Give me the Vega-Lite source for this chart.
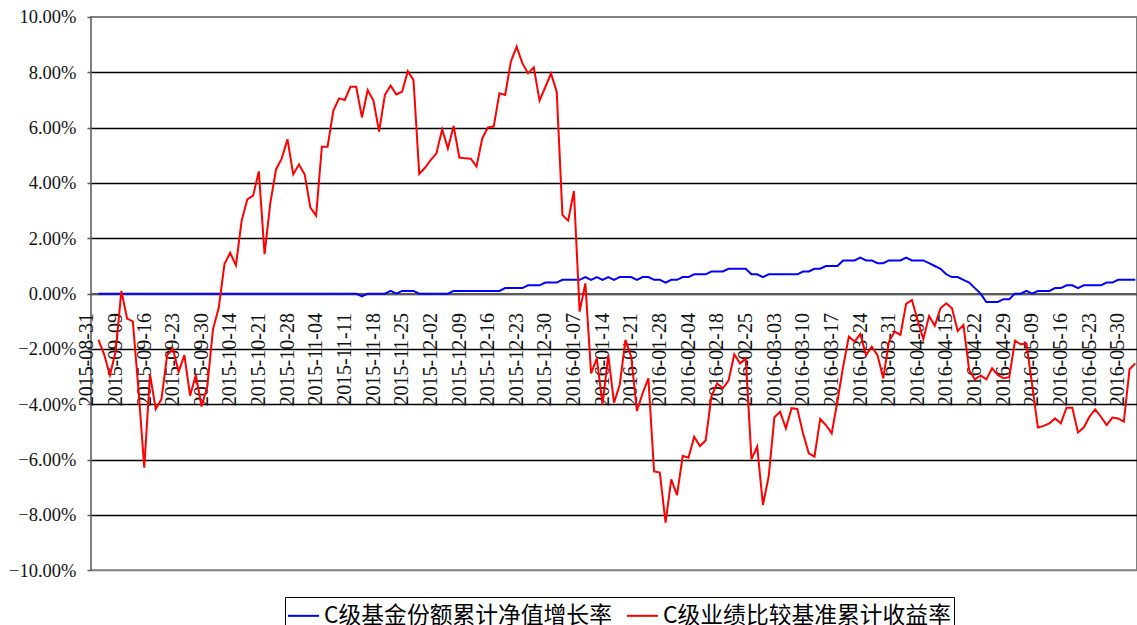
{
  "$schema": "https://vega.github.io/schema/vega-lite/v6.json",
  "width": 1046,
  "height": 553.3,
  "autosize": {"type": "none"},
  "padding": {"left": 91, "top": 17, "right": 0, "bottom": 55},
  "background": "white",
  "config": {"view": {"stroke": "#7f7f7f", "strokeWidth": 2}, "font": "Liberation Serif, DejaVu Serif, serif"},
  "data": {"values": [
    {"d":"2015-08-31","a":null,"b":null},
    {"d":"2015-09-01","a":0,"b":-1.67},
    {"d":"2015-09-02","a":0,"b":-2.2},
    {"d":"2015-09-07","a":0,"b":-2.94},
    {"d":"2015-09-08","a":0,"b":-2.1},
    {"d":"2015-09-09","a":0,"b":0.1},
    {"d":"2015-09-10","a":0,"b":-0.9},
    {"d":"2015-09-11","a":0,"b":-1.0},
    {"d":"2015-09-14","a":0,"b":-3.5},
    {"d":"2015-09-15","a":0,"b":-6.29},
    {"d":"2015-09-16","a":0,"b":-2.92},
    {"d":"2015-09-17","a":0,"b":-4.17},
    {"d":"2015-09-18","a":0,"b":-3.81},
    {"d":"2015-09-21","a":0,"b":-2.22},
    {"d":"2015-09-22","a":0,"b":-2.0},
    {"d":"2015-09-23","a":0,"b":-2.82},
    {"d":"2015-09-24","a":0,"b":-2.22},
    {"d":"2015-09-25","a":0,"b":-3.69},
    {"d":"2015-09-28","a":0,"b":-2.94},
    {"d":"2015-09-29","a":0,"b":-4.08},
    {"d":"2015-09-30","a":0,"b":-3.36},
    {"d":"2015-10-08","a":0,"b":-1.28},
    {"d":"2015-10-09","a":0,"b":-0.51},
    {"d":"2015-10-12","a":0,"b":1.07},
    {"d":"2015-10-13","a":0,"b":1.48},
    {"d":"2015-10-14","a":0,"b":1.02},
    {"d":"2015-10-15","a":0,"b":2.64},
    {"d":"2015-10-16","a":0,"b":3.41},
    {"d":"2015-10-19","a":0,"b":3.54},
    {"d":"2015-10-20","a":0,"b":4.42},
    {"d":"2015-10-21","a":0,"b":1.43},
    {"d":"2015-10-22","a":0,"b":3.27},
    {"d":"2015-10-23","a":0,"b":4.49},
    {"d":"2015-10-26","a":0,"b":4.89},
    {"d":"2015-10-27","a":0,"b":5.58},
    {"d":"2015-10-28","a":0,"b":4.31},
    {"d":"2015-10-29","a":0,"b":4.67},
    {"d":"2015-10-30","a":0,"b":4.31},
    {"d":"2015-11-02","a":0,"b":3.11},
    {"d":"2015-11-03","a":0,"b":2.82},
    {"d":"2015-11-04","a":0,"b":5.31},
    {"d":"2015-11-05","a":0,"b":5.31},
    {"d":"2015-11-06","a":0,"b":6.61},
    {"d":"2015-11-09","a":0,"b":7.06},
    {"d":"2015-11-10","a":0,"b":7.0},
    {"d":"2015-11-11","a":0,"b":7.48},
    {"d":"2015-11-12","a":0,"b":7.48},
    {"d":"2015-11-13","a":-0.1,"b":6.37},
    {"d":"2015-11-16","a":0,"b":7.36},
    {"d":"2015-11-17","a":0,"b":6.98},
    {"d":"2015-11-18","a":0,"b":5.86},
    {"d":"2015-11-19","a":0,"b":7.18},
    {"d":"2015-11-20","a":0.1,"b":7.52},
    {"d":"2015-11-23","a":0,"b":7.2},
    {"d":"2015-11-24","a":0.1,"b":7.3},
    {"d":"2015-11-25","a":0.1,"b":8.04},
    {"d":"2015-11-26","a":0.1,"b":7.72},
    {"d":"2015-11-27","a":0,"b":4.33},
    {"d":"2015-11-30","a":0,"b":4.55},
    {"d":"2015-12-01","a":0,"b":4.83},
    {"d":"2015-12-02","a":0,"b":5.07},
    {"d":"2015-12-03","a":0,"b":5.94},
    {"d":"2015-12-04","a":0,"b":5.25},
    {"d":"2015-12-07","a":0.1,"b":6.06},
    {"d":"2015-12-08","a":0.1,"b":4.92},
    {"d":"2015-12-09","a":0.1,"b":4.89},
    {"d":"2015-12-10","a":0.1,"b":4.88},
    {"d":"2015-12-11","a":0.1,"b":4.59},
    {"d":"2015-12-14","a":0.1,"b":5.61},
    {"d":"2015-12-15","a":0.1,"b":6.01},
    {"d":"2015-12-16","a":0.1,"b":6.04},
    {"d":"2015-12-17","a":0.1,"b":7.24},
    {"d":"2015-12-18","a":0.2,"b":7.18},
    {"d":"2015-12-21","a":0.2,"b":8.39},
    {"d":"2015-12-22","a":0.2,"b":8.93},
    {"d":"2015-12-23","a":0.2,"b":8.33},
    {"d":"2015-12-24","a":0.3,"b":7.96},
    {"d":"2015-12-25","a":0.3,"b":8.18},
    {"d":"2015-12-28","a":0.3,"b":6.98},
    {"d":"2015-12-29","a":0.4,"b":7.46},
    {"d":"2015-12-30","a":0.4,"b":7.96},
    {"d":"2015-12-31","a":0.4,"b":7.3},
    {"d":"2016-01-04","a":0.5,"b":2.84},
    {"d":"2016-01-05","a":0.5,"b":2.64},
    {"d":"2016-01-06","a":0.5,"b":3.71},
    {"d":"2016-01-07","a":0.5,"b":-0.65},
    {"d":"2016-01-08","a":0.6,"b":0.37},
    {"d":"2016-01-11","a":0.5,"b":-2.88},
    {"d":"2016-01-12","a":0.6,"b":-2.34},
    {"d":"2016-01-13","a":0.5,"b":-4.0},
    {"d":"2016-01-14","a":0.6,"b":-2.22},
    {"d":"2016-01-15","a":0.5,"b":-3.94},
    {"d":"2016-01-18","a":0.6,"b":-3.3},
    {"d":"2016-01-19","a":0.6,"b":-1.67},
    {"d":"2016-01-20","a":0.6,"b":-2.28},
    {"d":"2016-01-21","a":0.5,"b":-4.24},
    {"d":"2016-01-22","a":0.6,"b":-3.6},
    {"d":"2016-01-25","a":0.6,"b":-3.06},
    {"d":"2016-01-26","a":0.5,"b":-6.43},
    {"d":"2016-01-27","a":0.5,"b":-6.47},
    {"d":"2016-01-28","a":0.4,"b":-8.28},
    {"d":"2016-01-29","a":0.5,"b":-6.71},
    {"d":"2016-02-01","a":0.5,"b":-7.28},
    {"d":"2016-02-02","a":0.6,"b":-5.86},
    {"d":"2016-02-03","a":0.6,"b":-5.93},
    {"d":"2016-02-04","a":0.7,"b":-5.17},
    {"d":"2016-02-05","a":0.7,"b":-5.51},
    {"d":"2016-02-15","a":0.7,"b":-5.31},
    {"d":"2016-02-16","a":0.8,"b":-3.72},
    {"d":"2016-02-17","a":0.8,"b":-3.24},
    {"d":"2016-02-18","a":0.8,"b":-3.42},
    {"d":"2016-02-19","a":0.9,"b":-3.14},
    {"d":"2016-02-22","a":0.9,"b":-2.19},
    {"d":"2016-02-23","a":0.9,"b":-2.52},
    {"d":"2016-02-24","a":0.9,"b":-2.34},
    {"d":"2016-02-25","a":0.7,"b":-5.98},
    {"d":"2016-02-26","a":0.7,"b":-5.53},
    {"d":"2016-02-29","a":0.6,"b":-7.64},
    {"d":"2016-03-01","a":0.7,"b":-6.61},
    {"d":"2016-03-02","a":0.7,"b":-4.47},
    {"d":"2016-03-03","a":0.7,"b":-4.27},
    {"d":"2016-03-04","a":0.7,"b":-4.87},
    {"d":"2016-03-07","a":0.7,"b":-4.14},
    {"d":"2016-03-08","a":0.7,"b":-4.17},
    {"d":"2016-03-09","a":0.8,"b":-5.05},
    {"d":"2016-03-10","a":0.8,"b":-5.77},
    {"d":"2016-03-11","a":0.9,"b":-5.89},
    {"d":"2016-03-14","a":0.9,"b":-4.53},
    {"d":"2016-03-15","a":1.0,"b":-4.75},
    {"d":"2016-03-16","a":1.0,"b":-5.05},
    {"d":"2016-03-17","a":1.0,"b":-3.9},
    {"d":"2016-03-18","a":1.2,"b":-2.64},
    {"d":"2016-03-21","a":1.2,"b":-1.55},
    {"d":"2016-03-22","a":1.2,"b":-1.73},
    {"d":"2016-03-23","a":1.3,"b":-1.46},
    {"d":"2016-03-24","a":1.2,"b":-2.22},
    {"d":"2016-03-25","a":1.2,"b":-1.92},
    {"d":"2016-03-28","a":1.1,"b":-2.22},
    {"d":"2016-03-29","a":1.1,"b":-3.06},
    {"d":"2016-03-30","a":1.2,"b":-1.73},
    {"d":"2016-03-31","a":1.2,"b":-1.37},
    {"d":"2016-04-01","a":1.2,"b":-1.49},
    {"d":"2016-04-05","a":1.3,"b":-0.37},
    {"d":"2016-04-06","a":1.2,"b":-0.23},
    {"d":"2016-04-07","a":1.2,"b":-0.95},
    {"d":"2016-04-08","a":1.2,"b":-1.65},
    {"d":"2016-04-11","a":1.1,"b":-0.81},
    {"d":"2016-04-12","a":1.0,"b":-1.16},
    {"d":"2016-04-13","a":0.9,"b":-0.53},
    {"d":"2016-04-14","a":0.7,"b":-0.35},
    {"d":"2016-04-15","a":0.6,"b":-0.53},
    {"d":"2016-04-18","a":0.6,"b":-1.35},
    {"d":"2016-04-19","a":0.5,"b":-1.13},
    {"d":"2016-04-20","a":0.4,"b":-2.76},
    {"d":"2016-04-21","a":0.2,"b":-3.1},
    {"d":"2016-04-22","a":0.0,"b":-2.96},
    {"d":"2016-04-25","a":-0.3,"b":-3.1},
    {"d":"2016-04-26","a":-0.3,"b":-2.7},
    {"d":"2016-04-27","a":-0.3,"b":-2.94},
    {"d":"2016-04-28","a":-0.2,"b":-3.06},
    {"d":"2016-04-29","a":-0.2,"b":-3.02},
    {"d":"2016-05-03","a":0.0,"b":-1.7},
    {"d":"2016-05-04","a":0.0,"b":-1.83},
    {"d":"2016-05-05","a":0.1,"b":-1.8},
    {"d":"2016-05-06","a":0.0,"b":-3.3},
    {"d":"2016-05-09","a":0.1,"b":-4.84},
    {"d":"2016-05-10","a":0.1,"b":-4.78},
    {"d":"2016-05-11","a":0.1,"b":-4.69},
    {"d":"2016-05-12","a":0.2,"b":-4.51},
    {"d":"2016-05-13","a":0.2,"b":-4.69},
    {"d":"2016-05-16","a":0.3,"b":-4.12},
    {"d":"2016-05-17","a":0.3,"b":-4.12},
    {"d":"2016-05-18","a":0.2,"b":-5.02},
    {"d":"2016-05-19","a":0.3,"b":-4.84},
    {"d":"2016-05-20","a":0.3,"b":-4.45},
    {"d":"2016-05-23","a":0.3,"b":-4.18},
    {"d":"2016-05-24","a":0.3,"b":-4.45},
    {"d":"2016-05-25","a":0.4,"b":-4.75},
    {"d":"2016-05-26","a":0.4,"b":-4.48},
    {"d":"2016-05-27","a":0.5,"b":-4.51},
    {"d":"2016-05-30","a":0.5,"b":-4.63},
    {"d":"2016-05-31","a":0.5,"b":-2.73},
    {"d":"2016-06-01","a":0.5,"b":-2.52}
  ]},
  "transform": [{"fold": ["a", "b"], "as": ["k", "v"]}],
  "mark": {"type": "line", "strokeWidth": 2, "invalid": "break-paths-show-domains"},
  "encoding": {
    "x": {
      "field": "d", "type": "ordinal",
      "scale": {"type": "point", "padding": 0.3},
      "axis": {
        "title": null,
        "values": ["2015-08-31","2015-09-09","2015-09-16","2015-09-23","2015-09-30","2015-10-14","2015-10-21","2015-10-28","2015-11-04","2015-11-11","2015-11-18","2015-11-25","2015-12-02","2015-12-09","2015-12-16","2015-12-23","2015-12-30","2016-01-07","2016-01-14","2016-01-21","2016-01-28","2016-02-04","2016-02-18","2016-02-25","2016-03-03","2016-03-10","2016-03-17","2016-03-24","2016-03-31","2016-04-08","2016-04-15","2016-04-22","2016-04-29","2016-05-09","2016-05-16","2016-05-23","2016-05-30"],
        "labelAngle": -90, "labelAlign": "right", "labelBaseline": "alphabetic",
        "labelPadding": 19, "ticks": false, "tickSize": 0,
        "offset": -276.7,
        "domainColor": "#595959", "domainWidth": 2,
        "labelFont": "Liberation Serif, DejaVu Serif, serif", "labelFontSize": 20, "labelColor": "#111111",
        "labelOverlap": false, "labelFlush": false, "grid": false
      }
    },
    "y": {
      "field": "v", "type": "quantitative",
      "scale": {"domain": [-10, 10], "nice": false, "zero": false},
      "axis": {
        "title": null,
        "values": [-10, -8, -6, -4, -2, 0, 2, 4, 6, 8, 10],
        "labelExpr": "format(datum.value, '.2f') + '%'",
        "grid": true,
        "gridColor": {"condition": {"test": "abs(datum.value) > 9", "value": "transparent"}, "value": "#000000"},
        "gridWidth": 1.3,
        "domain": false,
        "tickSize": 4, "tickColor": "#595959", "tickWidth": 1.5,
        "labelPadding": 11,
        "labelFont": "Liberation Serif, DejaVu Serif, serif", "labelFontSize": 18.5, "labelColor": "#111111",
        "labelFlush": false, "labelOverlap": false
      }
    },
    "color": {
      "field": "k", "type": "nominal",
      "scale": {"domain": ["a", "b"], "range": ["#0000ff", "#ff0000"]},
      "legend": {
        "title": null, "orient": "none", "legendX": 194, "legendY": 580,
        "direction": "horizontal",
        "strokeColor": "#000000", "fillColor": "white", "padding": 2,
        "labelFont": "Noto Sans CJK SC", "labelFontSize": 22.8, "labelColor": "#000000", "labelLimit": 0,
        "symbolType": "stroke", "symbolSize": 960, "symbolStrokeWidth": 2,
        "columnPadding": 10, "labelOffset": 4,
        "labelExpr": "datum.value == 'a' ? 'C级基金份额累计净值增长率' : 'C级业绩比较基准累计收益率'"
      }
    }
  }
}
